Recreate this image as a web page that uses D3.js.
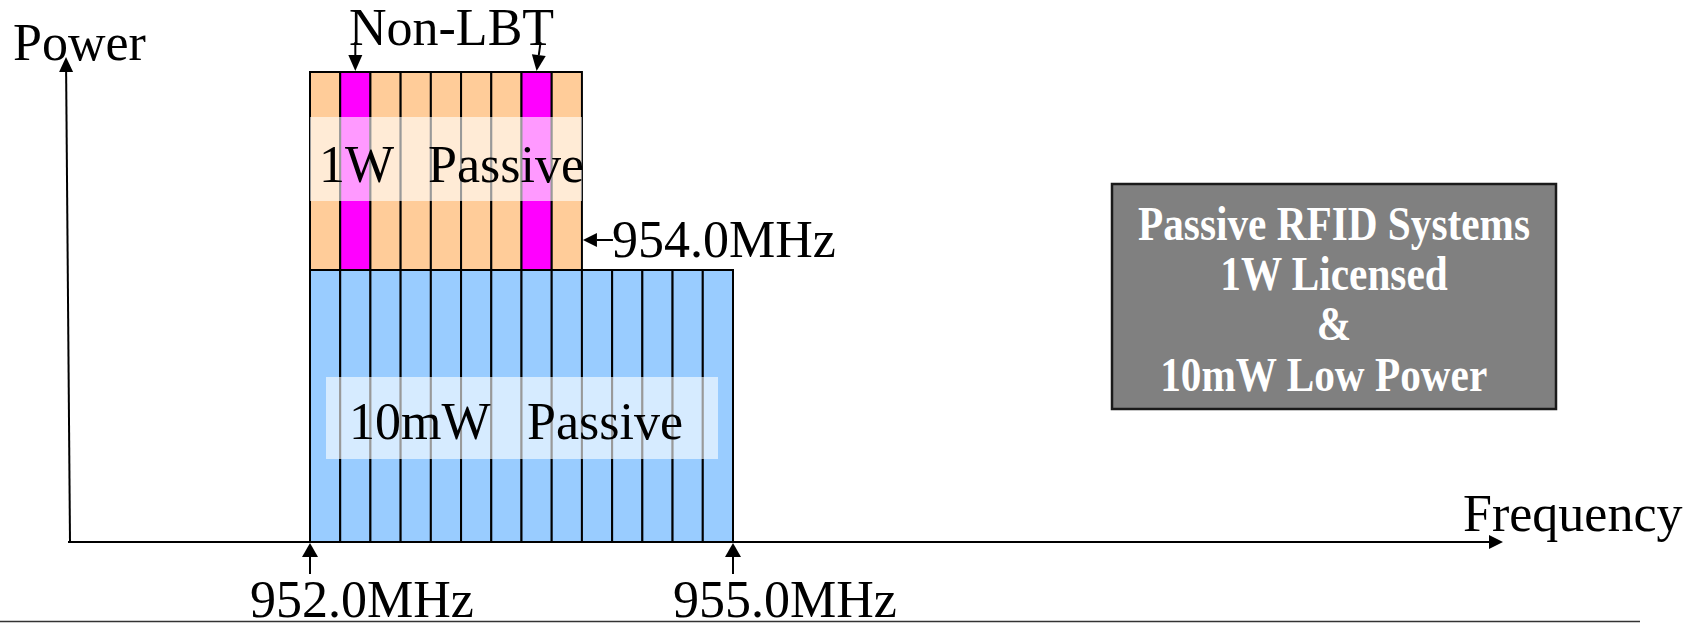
<!DOCTYPE html>
<html>
<head>
<meta charset="utf-8">
<script src="https://cdn.jsdelivr.net/npm/d3@7"></script>
<style>
  html, body { margin: 0; padding: 0; background: #fff; }
  svg { display: block; }
  text { font-family: "Liberation Serif", "Times New Roman", serif; }
</style>
</head>
<body>
<div id="chart"></div>
<script>
// channels of the 952-955MHz band
const channels = [1, 2, 3, 4, 5, 6, 7, 8, 9, 10, 11, 12, 13, 14];
// 1W passive channels (up to 954.0MHz)
const highPowerChannels = [1, 2, 3, 4, 5, 6, 7, 8, 9];
const nonLbtChannels = [2, 8];
const bandEdges = [952.0, 955.0]; // MHz
const edgeLabels = ["952.0MHz", "955.0MHz"];
const highEdgeLabel = "954.0MHz";
const powerLevels = [10, 1000]; // mW
const lowLabel = ["10mW", "Passive"];
const highLabel = ["1W", "Passive"];
const boxLines = ["Passive RFID Systems", "1W Licensed", "&", "10mW Low Power\u00a0\u00a0"];

const width = 1708, height = 623;
const origin = { x: 68, y: 542 };
const axisEnd = { x: 1503, y: 57 };

const svg = d3
	.select("#chart")
	.append("svg")
	.attr("width", width)
	.attr("height", height);

const x = d3.scaleLinear().domain(bandEdges).range([310, 733]);
const ch = d3
	.scaleBand()
	.domain(channels)
	.range([x(bandEdges[0]), x(bandEdges[1])])
	.paddingInner(0)
	.paddingOuter(0);
const y = d3
	.scaleLinear()
	.domain([0, powerLevels[0], powerLevels[1]])
	.range([origin.y, 270, 72]);

// arrow: line with a filled head at (x2, y2)
function arrow(g, x1, y1, x2, y2, len, half) {
	const a = Math.atan2(y2 - y1, x2 - x1);
	const bx = x2 - len * Math.cos(a), by = y2 - len * Math.sin(a);
	g.append("line")
		.attr("x1", x1).attr("y1", y1).attr("x2", bx).attr("y2", by)
		.attr("stroke", "#000").attr("stroke-width", 2);
	const px = -Math.sin(a) * half, py = Math.cos(a) * half;
	g.append("path")
		.attr("d", `M${x2},${y2}L${bx + px},${by + py}L${bx - px},${by - py}Z`)
		.attr("fill", "#000");
}

// 10mW blocks
svg.append("g")
	.selectAll("rect")
	.data(channels)
	.join("rect")
	.attr("x", d => ch(d))
	.attr("y", y(powerLevels[0]))
	.attr("width", ch.bandwidth())
	.attr("height", y(0) - y(powerLevels[0]))
	.attr("fill", "#99ccff")
	.attr("stroke", "#000")
	.attr("stroke-width", 2);

// 1W blocks
svg.append("g")
	.selectAll("rect")
	.data(highPowerChannels)
	.join("rect")
	.attr("x", d => ch(d))
	.attr("y", y(powerLevels[1]))
	.attr("width", ch.bandwidth())
	.attr("height", y(powerLevels[0]) - y(powerLevels[1]))
	.attr("fill", d => (nonLbtChannels.includes(d) ? "#ff00ff" : "#ffcc99"))
	.attr("stroke", "#000")
	.attr("stroke-width", 2);

const hiLeft = ch(highPowerChannels[0]);
const hiRight = ch(highPowerChannels[highPowerChannels.length - 1]) + ch.bandwidth();

// translucent label bands
svg.append("rect")
	.attr("x", hiLeft)
	.attr("y", y(powerLevels[1]) + 45)
	.attr("width", hiRight - hiLeft)
	.attr("height", 84)
	.attr("fill", "#fff")
	.attr("opacity", 0.6);
svg.append("rect")
	.attr("x", x(bandEdges[0]) + 16)
	.attr("y", y(powerLevels[0]) + 107)
	.attr("width", x(bandEdges[1]) - x(bandEdges[0]) - 31)
	.attr("height", 82)
	.attr("fill", "#fff")
	.attr("opacity", 0.6);

const big = g => g.attr("font-size", 52).attr("fill", "#000");

svg.append("text").call(big).attr("x", hiLeft + 9).attr("y", y(powerLevels[1]) + 110).text(highLabel[0]);
svg.append("text").call(big).attr("x", hiLeft + 118).attr("y", y(powerLevels[1]) + 110).text(highLabel[1]);
svg.append("text").call(big).attr("x", x(bandEdges[0]) + 39).attr("y", y(powerLevels[0]) + 169).text(lowLabel[0]);
svg.append("text").call(big).attr("x", x(bandEdges[0]) + 217).attr("y", y(powerLevels[0]) + 169).text(lowLabel[1]);

// axes
const axes = svg.append("g");
arrow(axes, origin.x + 2, origin.y, origin.x - 2, axisEnd.y, 15, 7);
arrow(axes, origin.x, origin.y, axisEnd.x, origin.y, 14, 7);
svg.append("text").call(big).attr("x", 13).attr("y", 60).text("Power");
svg.append("text").call(big).attr("x", 1463).attr("y", 531).text("Frequency");

// band edge markers
bandEdges.forEach((f, i) => {
	arrow(axes, x(f), origin.y + 32, x(f), origin.y + 1, 14, 8);
	svg.append("text").call(big)
		.attr("x", x(f) - 60)
		.attr("y", 617)
		.text(edgeLabels[i]);
});

// 954.0MHz marker
const hiMid = y(powerLevels[0]) - 30;
arrow(axes, hiRight + 31, hiMid, hiRight + 1, hiMid, 14, 7);
svg.append("text").call(big).attr("x", hiRight + 30).attr("y", y(powerLevels[0]) - 13).text(highEdgeLabel);

// Non-LBT
svg.append("text").call(big).attr("x", 349).attr("y", 45).text("Non-LBT");
nonLbtChannels.forEach((c, i) => {
	const cx = ch(c) + ch.bandwidth() / 2;
	arrow(axes, cx + (i === 0 ? 0 : 4), 42, cx, y(powerLevels[1]) - 1, 16, 7);
});

// info box
const box = svg.append("g");
box.append("rect")
	.attr("x", 1112)
	.attr("y", 184)
	.attr("width", 444)
	.attr("height", 225)
	.attr("fill", "#808080")
	.attr("stroke", "#1a1a1a")
	.attr("stroke-width", 2.5);
const lineY = [240, 290, 340, 391];
box.selectAll("text")
	.data(boxLines)
	.join("text")
	.attr("transform", (d, i) => `translate(1334,${lineY[i]}) scale(0.86,1)`)
	.attr("text-anchor", "middle")
	.attr("font-size", 48)
	.attr("font-weight", "bold")
	.attr("fill", "#fff")
	.text(d => d);

// bottom rule
svg.append("line")
	.attr("x1", 0).attr("x2", 1640)
	.attr("y1", 621.5).attr("y2", 621.5)
	.attr("stroke", "#333")
	.attr("stroke-width", 1.5);
</script>
</body>
</html>
